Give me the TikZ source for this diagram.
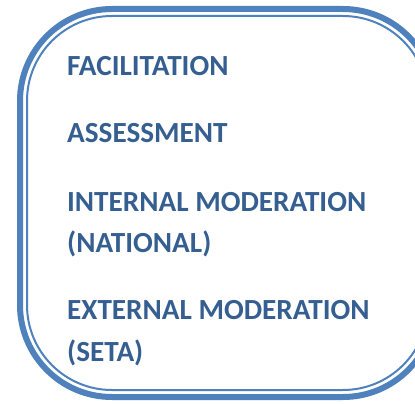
\documentclass[tikz,border=0pt]{standalone}
\usepackage{fontspec}
\setmainfont{Carlito}
\definecolor{framecol}{RGB}{79,129,189}
\definecolor{labelcol}{RGB}{54,95,145}
\tikzset{
  frameouter/.style={draw=framecol,line width=6pt,rounded corners=92pt},
  frameinner/.style={draw=framecol,line width=2pt,rounded corners=85pt},
  steplabel/.style={anchor=base west,inner sep=0pt,align=left,text=labelcol,
    font=\fontsize{29.2}{41.5}\selectfont\bfseries}
}
\begin{document}
\begin{tikzpicture}[x=1pt,y=-1pt]
\useasboundingbox (0,0) rectangle (415,404);
\clip (0,0) rectangle (415,404);
\draw[frameouter] (20,9) rectangle (435,397);
\draw[frameinner] (27,16) rectangle (428,390);
\node[steplabel] (facil) at (67,75) {FACILITATION};
\node[steplabel] (assess) at (67,142) {ASSESSMENT};
\node[steplabel] (intmod) at (67,252.5) {INTERNAL MODERATION\\(NATIONAL)};
\node[steplabel] (extmod) at (67,361) {EXTERNAL MODERATION\\(SETA)};
\end{tikzpicture}
\end{document}
